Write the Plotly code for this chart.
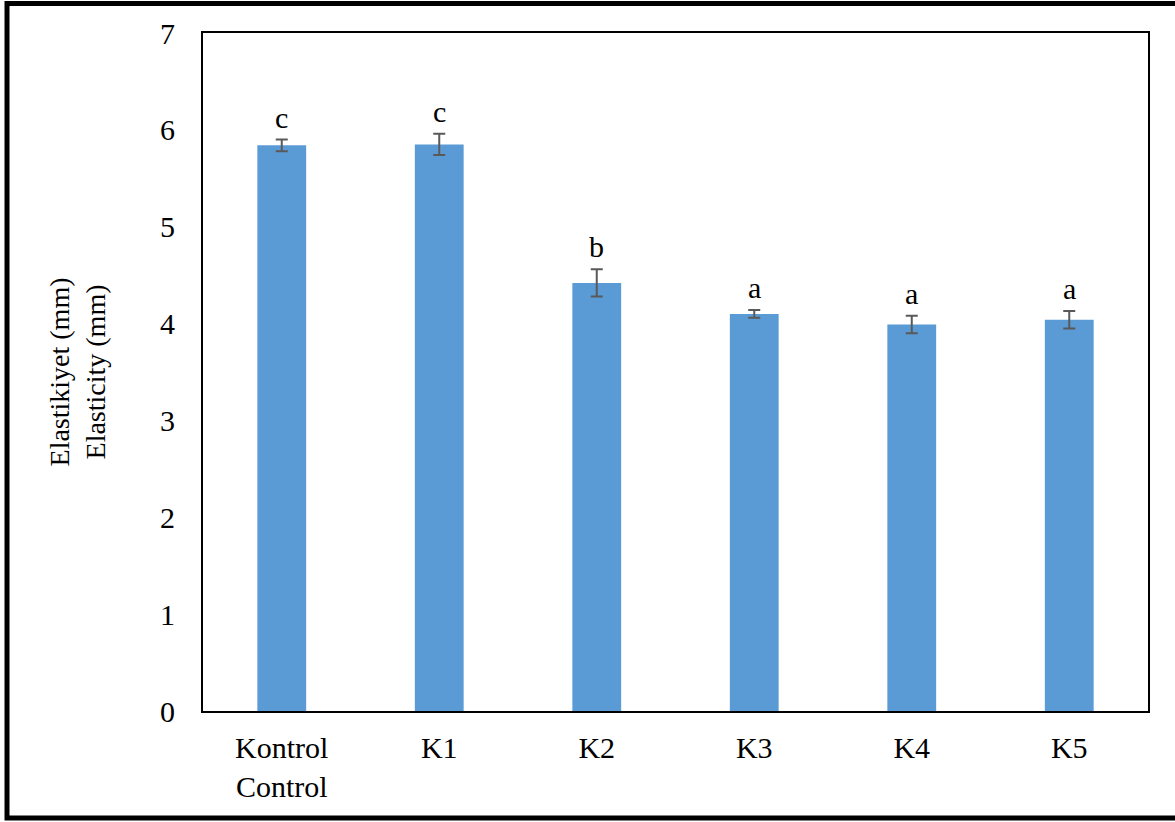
import plotly.graph_objects as go

categories = ["Kontrol<br>Control", "K1", "K2", "K3", "K4", "K5"]
values = [5.84, 5.85, 4.42, 4.10, 3.99, 4.04]
errors = [0.06, 0.11, 0.14, 0.04, 0.09, 0.09]
letters = ["c", "c", "b", "a", "a", "a"]
y_ticks = [0, 1, 2, 3, 4, 5, 6, 7]

FONT = "Liberation Serif"
W, H = 1175, 822
L, R, T, B = 203, 27, 33, 111
pw, ph = W - L - R, H - T - B

fig = go.Figure()
fig.add_trace(go.Bar(
    x=categories, y=values,
    marker=dict(color="#5B9BD5", line=dict(width=0)),
    width=0.31,
    error_y=dict(type="data", array=errors, visible=True,
                 color="#595959", thickness=2, width=6),
    showlegend=False,
))

for c, v, e, t in zip(categories, values, errors, letters):
    fig.add_annotation(x=c, y=v + e, text=t, showarrow=False,
                       yanchor="bottom", yshift=4,
                       font=dict(family=FONT, size=30, color="black"))

def px_x(p):
    return (p - L) / pw

def px_y(p):
    return (H - B - p) / ph

# outer frame (top, left, bottom)
fig.add_shape(type="rect", xref="paper", yref="paper",
              x0=px_x(7), x1=px_x(1185), y0=px_y(818), y1=px_y(3.5),
              line=dict(color="black", width=5), layer="below")

fig.update_layout(
    width=W, height=H,
    margin=dict(l=L, r=R, t=T, b=B),
    paper_bgcolor="white", plot_bgcolor="white",
    font=dict(family=FONT, size=30, color="black"),
    bargap=0.69,
    xaxis=dict(showline=True, linecolor="black", linewidth=2, mirror=True,
               showgrid=False, ticks="", ticklabelstandoff=9,
               tickfont=dict(family=FONT, size=30, color="black")),
    yaxis=dict(range=[0, 7], tickvals=y_ticks, showline=True, linecolor="black",
               linewidth=2, mirror=True, showgrid=False, zeroline=False,
               ticks="", ticklabelstandoff=20,
               tickfont=dict(family=FONT, size=30, color="black"),
               title=dict(text="Elastikiyet (mm)<br>Elasticity (mm)",
                          font=dict(family=FONT, size=28, color="black"),
                          standoff=46)),
)

fig.write_html("out.html")
